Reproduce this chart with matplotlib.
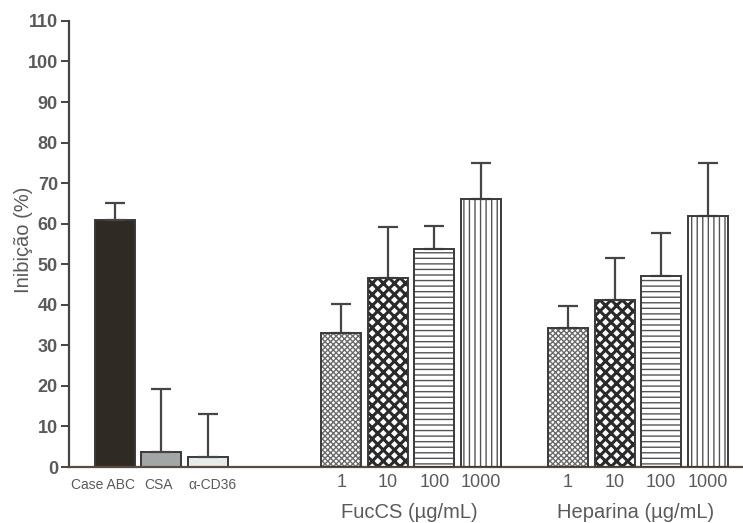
import matplotlib.pyplot as plt
import numpy as np

# controls
ctrl_labels = ["Case ABC", "CSA", "α-CD36"]
ctrl_mean = [60.8, 3.7, 2.5]
ctrl_err = [4.2, 15.5, 10.5]

# dose series (µg/mL)
doses = ["1", "10", "100", "1000"]
fuccs_mean = [33.0, 46.7, 53.8, 66.0]
fuccs_err = [7.2, 12.6, 5.7, 8.9]
hep_mean = [34.3, 41.2, 47.2, 62.0]
hep_err = [5.4, 10.4, 10.6, 12.9]

plt.rcParams['font.family'] = ['Liberation Sans', 'DejaVu Sans']
plt.rcParams['hatch.linewidth'] = 1.0

fig = plt.figure(figsize=(7.43, 5.23), dpi=100)
ax = fig.add_axes([0.093, 0.107, 0.907, 0.853])

edge = '#3a3a3a'
grey_txt = '#5a5a5a'
w = 0.86

ctrl_x = np.array([0, 1, 2])
fuc_x = np.array([4.87, 5.87, 6.87, 7.87])
hep_x = np.array([9.74, 10.74, 11.74, 12.74])

ekw = dict(ecolor='#454545', elinewidth=1.6, capsize=7, capthick=1.6)

ctrl_fill = ['#2f2b22', '#a2a6a4', '#e6ede8']
for x, m, e, c in zip(ctrl_x, ctrl_mean, ctrl_err, ctrl_fill):
    ax.bar(x, m, w, color=c, edgecolor=edge, linewidth=1.4,
           yerr=[[0], [e]], error_kw=ekw, zorder=2)

# pattern per dose: fine check, coarse check, horizontal, vertical
hatches = ['xxxxxx', 'xxx', '---', '|||']
hcol = ['#6a6a6a', '#2a2a2a', '#555555', '#555555']
hlw = [1.0, 2.2, 1.0, 1.0]
for xs, means, errs in [(fuc_x, fuccs_mean, fuccs_err), (hep_x, hep_mean, hep_err)]:
    for x, m, e, h, hc, lw in zip(xs, means, errs, hatches, hcol, hlw):
        bars = ax.bar(x, m, w, color='white', edgecolor=hc, hatch=h, linewidth=0,
                      yerr=[[0], [e]], error_kw=ekw, zorder=2)
        for b in bars:
            if hasattr(b, 'set_hatch_linewidth'):
                b.set_hatch_linewidth(lw)
        ax.bar(x, m, w, color='none', edgecolor=edge, linewidth=1.4, zorder=3)

ax.set_xlim(-0.98, 13.5)
ax.set_ylim(0, 110)
ax.set_yticks(np.arange(0, 111, 10))
ax.tick_params(axis='y', length=6, width=1.4, color='#444444', labelsize=13,
               labelcolor=grey_txt, pad=2)
for lab in ax.get_yticklabels():
    lab.set_fontweight('bold')

# dose numbers as tick labels, control names drawn separately (condensed)
ax.set_xticks(list(fuc_x) + list(hep_x))
ax.set_xticklabels(doses + doses, fontsize=13)
ax.tick_params(axis='x', length=0, pad=5, labelcolor=grey_txt)

lab_y = -2.6
ax.text(ctrl_x[0] + w / 2, lab_y, ctrl_labels[0], ha='right', va='top',
        fontsize=10, color=grey_txt)
ax.text(ctrl_x[1] - 0.05, lab_y, ctrl_labels[1], ha='center', va='top',
        fontsize=10, color=grey_txt)
ax.text(ctrl_x[2] + 0.1, lab_y, ctrl_labels[2], ha='center', va='top',
        fontsize=10, color=grey_txt)

ax.spines['top'].set_visible(False)
ax.spines['right'].set_visible(False)
ax.spines['left'].set_color('#444444')
ax.spines['left'].set_linewidth(1.6)
ax.spines['bottom'].set_color('#5a4a40')
ax.spines['bottom'].set_linewidth(1.6)

ax.set_ylabel("Inibição (%)", fontsize=14.5, color=grey_txt)
ax.yaxis.set_label_coords(-0.054, 0.51)

ax.text(fuc_x.mean() - 0.05, -11.2, "FucCS (µg/mL)", ha='center', va='center',
        fontsize=14.5, color=grey_txt)
ax.text(hep_x.mean() - 0.05, -11.2, "Heparina (µg/mL)", ha='center', va='center',
        fontsize=14.5, color=grey_txt)

fig.savefig("out.png", dpi=100)
